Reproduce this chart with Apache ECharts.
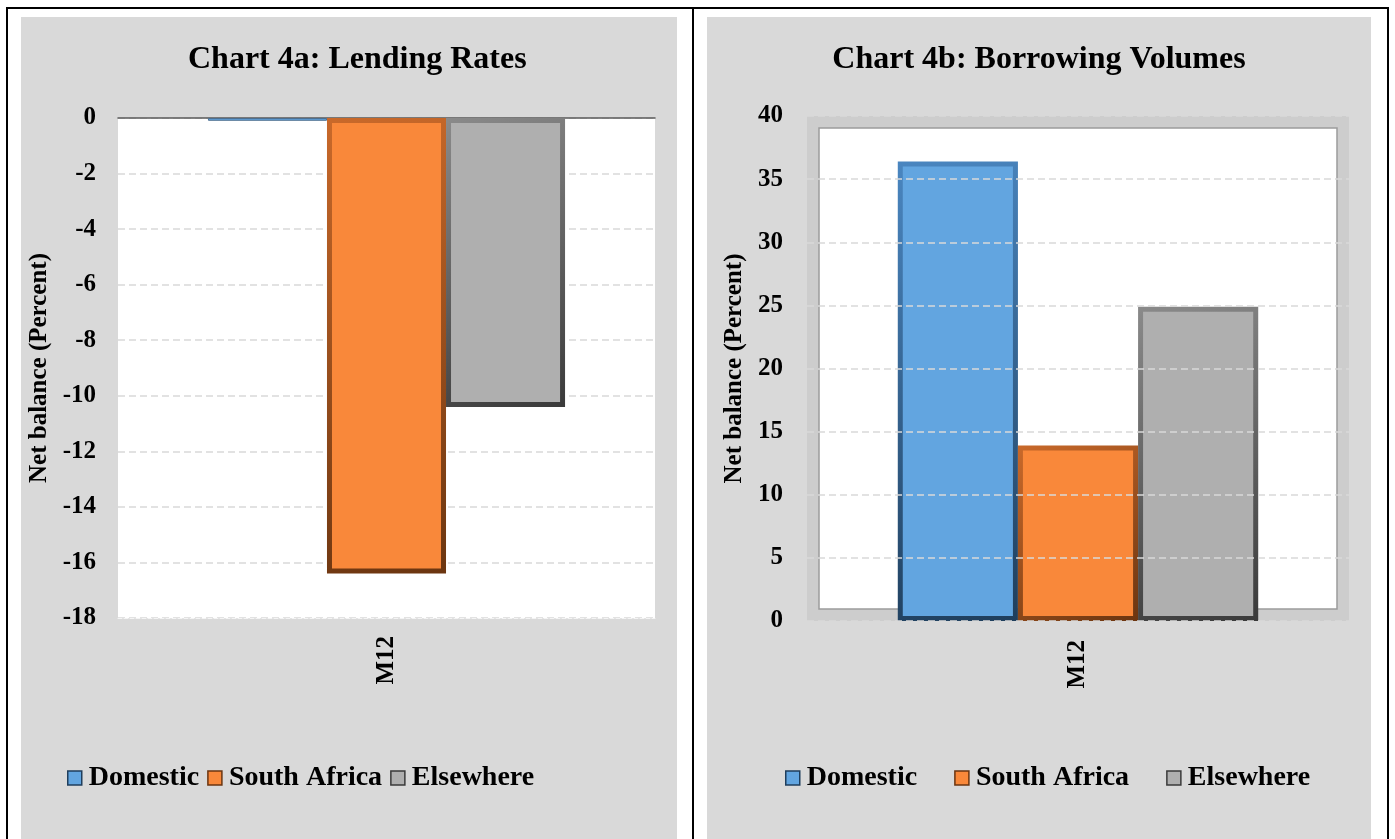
<!DOCTYPE html>
<html>
<head>
<meta charset="utf-8">
<script src="https://cdn.jsdelivr.net/npm/echarts@6/dist/echarts.min.js"></script>
<style>
  body { margin: 0; background: #fff; width: 1395px; height: 839px; overflow: hidden; position: relative; }
  .frame { position: absolute; left: 6px; top: 7px; width: 1379px; height: 840px; border: 2px solid #000; border-bottom: none; }
  .divider { position: absolute; left: 692px; top: 7px; width: 2px; height: 832px; background: #000; }
  .panel { position: absolute; top: 17px; height: 822px; background: #d9d9d9; }
  #leftChart { left: 21px; width: 656px; }
  #rightChart { left: 707px; width: 664px; }
</style>
</head>
<body>
<div class="frame"></div>
<div class="divider"></div>
<div class="panel" id="leftChart"></div>
<div class="panel" id="rightChart"></div>
<script>
// 数据
var categories = ['M12'];
var seriesNames = ['Domestic', 'South Africa', 'Elsewhere'];
var lendingRates = [-0.1, -16.4, -10.4];      // Chart 4a
var borrowingVolumes = [36.4, 13.9, 24.9];    // Chart 4b

var fillColors = ['#62a5e0', '#f9883a', '#afafaf'];
var edgeColors = ['#4a86c0', '#c9692a', '#8a8a8a'];
var darkColors = ['#1f3e5c', '#6b3510', '#3a3a3a'];
var font = 'Liberation Serif';

function bevel(i) {
  return {
    color: fillColors[i],
    borderWidth: 5,
    borderColor: {
      type: 'linear', x: 0, y: 0, x2: 1, y2: 1,
      colorStops: [{ offset: 0, color: edgeColors[i] }, { offset: 1, color: darkColors[i] }]
    }
  };
}

function makeSeries(values, thinFirst) {
  return seriesNames.map(function (name, i) {
    var style = bevel(i);
    if (thinFirst && i === 0) { style.borderWidth = 1; style.borderColor = '#4d6f90'; }
    return {
      name: name,
      type: 'bar',
      barGap: '0%',
      barCategoryGap: '33.5%',
      itemStyle: style,
      data: [values[i]]
    };
  });
}

var labelStyle = { color: '#000', fontFamily: font, fontWeight: 'bold', fontSize: 25 };
var splitStyle = { show: true, lineStyle: { color: '#d9d9d9', type: [7, 4], width: 1.5 } };

function legendOf(left, gap) {
  return {
    left: left, top: 742, itemGap: gap, itemWidth: 14, itemHeight: 14, icon: 'rect',
    data: seriesNames.map(function (n, i) { return { name: n, itemStyle: { color: fillColors[i], borderColor: darkColors[i], borderWidth: 1.5 } }; }),
    textStyle: { color: '#000', fontFamily: font, fontWeight: 'bold', fontSize: 28, padding: [0, 0, 0, 2] }
  };
}

// 左边图表
var leftChart = echarts.init(document.getElementById('leftChart'));
leftChart.setOption({
  animation: false,
  title: {
    text: 'Chart 4a: Lending Rates', left: 167, top: 27, padding: 0,
    textStyle: { color: '#000', fontFamily: font, fontWeight: 'bold', fontSize: 32 }
  },
  legend: legendOf(41, 8),
  grid: { left: 97, top: 101, width: 537, height: 500, show: true, backgroundColor: '#fff', borderWidth: 0, outerBoundsMode: 'none' },
  xAxis: [
    {
      type: 'category', data: categories, position: 'bottom',
      axisLine: { onZero: false, lineStyle: { color: '#f4f4f4', type: 'dashed' } },
      axisTick: { show: false },
      axisLabel: Object.assign({ rotate: 90, margin: 18 }, labelStyle)
    },
    {
      type: 'category', data: categories, position: 'top',
      axisLine: { onZero: false, lineStyle: { color: '#595959', width: 1.5 } },
      axisTick: { show: false }, axisLabel: { show: false }
    }
  ],
  yAxis: {
    type: 'value', min: -18, max: 0, interval: 2,
    name: 'Net balance (Percent)', nameLocation: 'middle', nameGap: 59,
    nameTextStyle: labelStyle,
    axisLine: { show: false }, axisTick: { show: false },
    axisLabel: Object.assign({ margin: 22 }, labelStyle),
    splitLine: splitStyle
  },
  series: makeSeries(lendingRates, true)
});

// 右边图表
var rightChart = echarts.init(document.getElementById('rightChart'));
rightChart.setOption({
  animation: false,
  title: {
    text: 'Chart 4b: Borrowing Volumes', left: 'center', top: 27, padding: 0,
    textStyle: { color: '#000', fontFamily: font, fontWeight: 'bold', fontSize: 32 }
  },
  legend: legendOf(73, 37),
  grid: [
    { left: 100, top: 99, width: 542, height: 505, show: true, backgroundColor: '#fff', borderWidth: 0, outerBoundsMode: 'none' },
    { left: 106, top: 105, width: 530, height: 493, show: true, backgroundColor: 'transparent', borderColor: '#cdcdcd', borderWidth: 12, outerBoundsMode: 'none' },
    { left: 112, top: 111, width: 518, height: 481, show: true, backgroundColor: 'transparent', borderColor: '#9c9c9c', borderWidth: 1.5, outerBoundsMode: 'none' }
  ],
  xAxis: [
    {
      type: 'category', data: categories, gridIndex: 0,
      axisLine: { show: false }, axisTick: { show: false },
      axisLabel: Object.assign({ rotate: 90, margin: 19 }, labelStyle)
    },
    { type: 'category', data: categories, gridIndex: 1, show: false },
    { type: 'category', data: categories, gridIndex: 2, show: false }
  ],
  yAxis: [
    {
      type: 'value', min: 0, max: 40, interval: 5, gridIndex: 0,
      name: 'Net balance (Percent)', nameLocation: 'middle', nameGap: 55,
      nameTextStyle: labelStyle,
      axisLine: { show: false }, axisTick: { show: false },
      axisLabel: Object.assign({ margin: 24 }, labelStyle),
      splitLine: splitStyle, z: 3
    },
    { type: 'value', gridIndex: 1, show: false, splitLine: { show: false } },
    { type: 'value', gridIndex: 2, show: false, splitLine: { show: false } }
  ],
  series: makeSeries(borrowingVolumes, false)
});
</script>
</body>
</html>
